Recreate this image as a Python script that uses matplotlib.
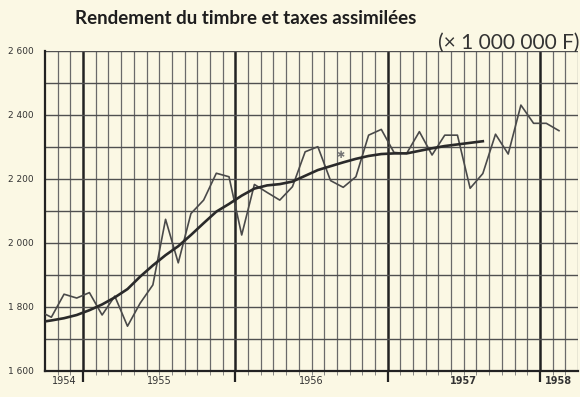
import matplotlib.pyplot as plt
import numpy as np

# monthly receipts, in millions of francs; x = months counted from October 1954
monthPos = np.arange(-1, 41) + 0.5
rawValues = [1788, 1768, 1840, 1828, 1845, 1775, 1834, 1740, 1812, 1869,
             2074, 1938, 2092, 2134, 2218, 2207, 2025, 2183, 2158, 2134,
             2176, 2285, 2301, 2195, 2174, 2207, 2337, 2355, 2283, 2280,
             2348, 2275, 2337, 2337, 2171, 2217, 2340, 2278, 2431, 2374,
             2374, 2351]

# smoothed trend, stops earlier than the monthly series
trendPos = np.arange(-1, 35) + 0.5
trendValues = [1752, 1758, 1765, 1775, 1790, 1808, 1830, 1856, 1895, 1930,
               1962, 1990, 2025, 2062, 2098, 2122, 2148, 2170, 2180, 2184,
               2192, 2210, 2228, 2240, 2252, 2263, 2272, 2278, 2280, 2280,
               2288, 2296, 2303, 2308, 2313, 2318]

years = ['1954', '1955', '1956', '1957', '1958']
yearLabelPos = [1.5, 9, 21, 33, 40.5]
yearBold = [False, False, False, True, True]
yearStarts = [3, 15, 27, 39]

yTicks = [1600, 1800, 2000, 2200, 2400, 2600]
yTickLabels = ['1 600', '1 800', '2 000', '2 200', '2 400', '2 600']

starPos = (23.3, 2275)

paper = '#fbf8e4'
ink = '#4a4a4a'

fig = plt.figure(figsize=(5.8, 3.97), dpi=100, facecolor=paper)
ax = fig.add_axes([45 / 580, 26 / 397, 533 / 580, 320 / 397])
ax.set_facecolor(paper)

ax.set_xlim(0, 42)
ax.set_ylim(1600, 2600)

# paper grid: one line per month, heavier ones at year changes
for m in range(1, 43):
    if m in yearStarts:
        ax.axvline(m, color='#222222', lw=1.8, zorder=1)
    else:
        ax.axvline(m, color='#6a6a6a', lw=0.9, zorder=1)
for v in range(1700, 2700, 100):
    ax.axhline(v, color='#505050', lw=1.0, zorder=1)

ax.plot(monthPos, rawValues, color=ink, lw=1.2, zorder=3)
ax.plot(trendPos, trendValues, color='#2a2a2a', lw=1.9, zorder=3)

ax.text(starPos[0], starPos[1], '✱', color='#777777', fontsize=7,
        ha='center', va='center', zorder=4)

for s in ['top', 'right']:
    ax.spines[s].set_visible(False)
ax.spines['left'].set_linewidth(1.6)
ax.spines['bottom'].set_linewidth(1.6)
ax.spines['left'].set_color('#222222')
ax.spines['bottom'].set_color('#222222')

ax.set_yticks(yTicks)
ax.set_yticklabels(yTickLabels, fontsize=6.5, color='#333333')
ax.tick_params(axis='y', length=0, pad=8)

ax.set_xticks(yearStarts)
ax.set_xticklabels([])
ax.set_xticks(np.arange(1, 42), minor=True)
ax.tick_params(axis='x', which='major', length=8, width=1.6, color='#222222')
ax.tick_params(axis='x', which='minor', length=3, width=0.6, color='#777777')

for name, pos, bold in zip(years, yearLabelPos, yearBold):
    ax.text(pos, 1600 - 32, name, ha='center', va='center', fontsize=7,
            fontweight='bold' if bold else 'normal', color='#333333')

fig.text(75 / 580, 1 - 18 / 397, 'Rendement du timbre et taxes assimilées',
         fontsize=13.5, fontweight='bold', family='Lato', color='#1e1e1e',
         ha='left', va='center')
fig.text(579 / 580, 1 - 53 / 397, '(× 1 000 000 F)', fontsize=15,
         family='Lato', color='#333333', ha='right', va='bottom')

fig.savefig('out.png', dpi=100, facecolor=paper)
